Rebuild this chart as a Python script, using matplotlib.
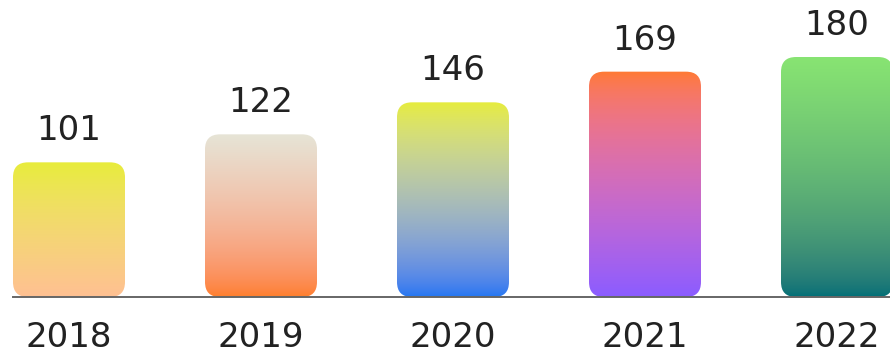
import numpy as np
import matplotlib
matplotlib.use("Agg")
import matplotlib.pyplot as plt
from matplotlib.patches import FancyBboxPatch
from matplotlib.colors import to_rgb

years = ["2018", "2019", "2020", "2021", "2022"]
values = [101, 122, 146, 169, 180]
# gradient colours per bar: (top, bottom)
top_colors = ["#e8ec3a", "#e6e4d6", "#e6ec3c", "#ff7a32", "#88e472"]
bottom_colors = ["#ffc092", "#ff7f2c", "#2277f2", "#8a5cff", "#007078"]

W, H, DPI = 890, 355, 100
fig = plt.figure(figsize=(W / DPI, H / DPI), dpi=DPI)
ax = fig.add_axes([13 / W, 58 / H, 877 / W, 297 / H])

px_per_unit_y = 1.3333
slot = 192.0
bar_w = 112 / slot
radius_px = 15
r_x = radius_px / slot
aspect = (1 / px_per_unit_y) * slot  # y data units per x data unit on screen


def to_linear(c):
    c = np.asarray(c)
    return np.where(c <= 0.04045, c / 12.92, ((c + 0.055) / 1.055) ** 2.4)


def to_srgb(c):
    c = np.asarray(c)
    return np.where(c <= 0.0031308, c * 12.92, 1.055 * c ** (1 / 2.4) - 0.055)


def gradient_image(bottom, top, n=256):
    b = to_linear(np.array(to_rgb(bottom)))
    t = to_linear(np.array(to_rgb(top)))
    f = np.linspace(0, 1, n).reshape(-1, 1)
    lin = b * (1 - f) + t * f
    return np.clip(to_srgb(lin), 0, 1).reshape(n, 1, 3)


x = np.arange(len(years))

for i, (xi, v) in enumerate(zip(x, values)):
    left = xi - bar_w / 2
    patch = FancyBboxPatch((left, 0), bar_w, v,
                           boxstyle=f"round,pad=0,rounding_size={r_x}",
                           mutation_aspect=aspect,
                           facecolor="none", edgecolor="none")
    ax.add_patch(patch)
    im = ax.imshow(gradient_image(bottom_colors[i], top_colors[i]),
                   origin="lower", aspect="auto",
                   extent=(left, left + bar_w, 0, v), zorder=1,
                   interpolation="bilinear")
    im.set_clip_path(patch)
    ax.annotate(str(v), (xi, v), xytext=(0, 22 * 72 / DPI),
                textcoords="offset points", ha="center", va="baseline",
                fontsize=24.5, color="#222222", family="DejaVu Sans")

ax.set_xlim(-56 / slot, (890 - 69) / slot)
ax.set_ylim(0, 297 / px_per_unit_y)

for s in ["top", "right", "left"]:
    ax.spines[s].set_visible(False)
ax.spines["bottom"].set_color("#666666")
ax.spines["bottom"].set_linewidth(1.4)
ax.spines["bottom"].set_zorder(5)
ax.set_yticks([])
ax.set_xticks(x)
ax.set_xticklabels(years, fontsize=24.5, color="#222222", family="DejaVu Sans")
ax.tick_params(axis="x", length=0, pad=17)
ax.patch.set_alpha(0)

fig.savefig("out.png", dpi=DPI)
